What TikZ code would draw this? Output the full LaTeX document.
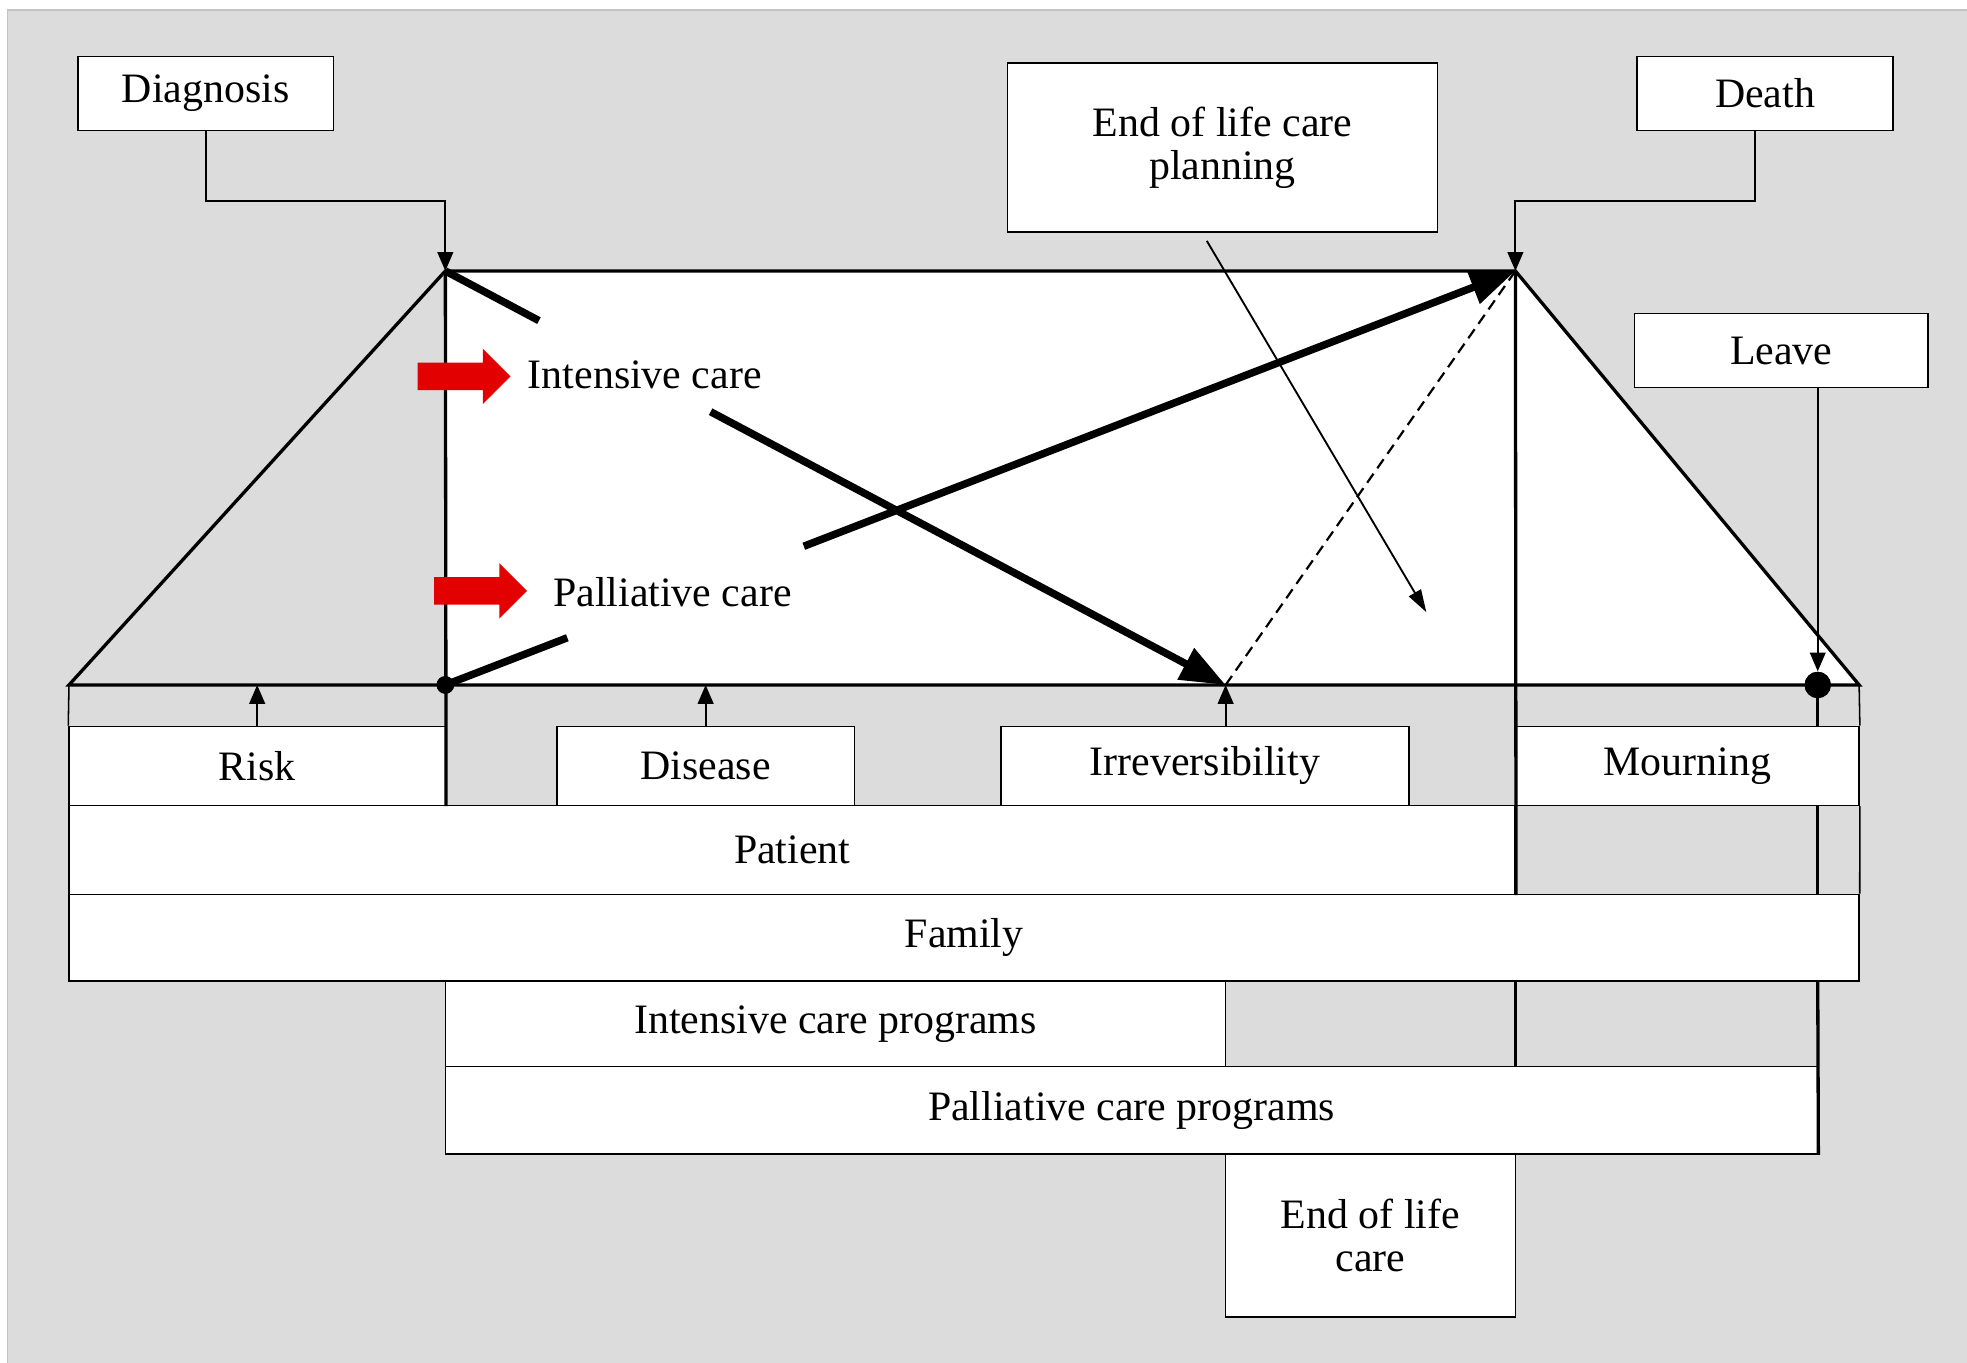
\documentclass[tikz,border=0pt]{standalone}
\usepackage{fontspec}
\setmainfont{Liberation Serif}
\usetikzlibrary{arrows.meta,calc}
\definecolor{bggray}{RGB}{220,220,220}
\definecolor{framegray}{RGB}{195,195,195}
\definecolor{redarrow}{RGB}{226,0,0}
\begin{document}
\begin{tikzpicture}[x=0.02cm,y=-0.02cm,
  box/.style={draw, fill=white, line width=0.7pt, inner sep=0pt, font=\fontsize{19}{19.5}\selectfont, align=center},
  txt/.style={font=\fontsize{19}{19.5}\selectfont, inner sep=0pt},
  frame/.style={line width=1.5pt},
  thinline/.style={line width=0.7pt},
  conn/.style={line width=0.85pt, -{Triangle[length=0.3cm,width=0.25cm]}},
  heavy/.style={line width=3.4pt},
  heavytip/.style={-{Triangle[length=0.72cm,width=0.54cm]}},
  dotnode/.style={circle, fill=black, inner sep=0pt},
  redblock/.style={fill=redarrow}
]
\useasboundingbox (0,0) rectangle (1568,1086);
\fill[white] (0,0) rectangle (1568,1086);
\draw[fill=bggray, draw=framegray, line width=0.6pt] (6,8) rectangle (1600,1120);

% key points
\coordinate (TL) at (355,216);
\coordinate (TR) at (1208,216);
\coordinate (BL) at (55,546);
\coordinate (BR) at (1482,546);
\coordinate (BM) at (355,546);
\coordinate (irr) at (977,546);
\coordinate (dbend) at (355,160);
\coordinate (tbend) at (1208,160);
\coordinate (pstart) at (962,192);
\coordinate (pend) at (1137,488);

% white interior
\fill[white] (TL) -- (TR) -- (BR) -- (BM) -- cycle;

% top boxes
\node[box, minimum width=4.08cm, minimum height=1.18cm] (diag) at (164,74.5) {Diagnosis};
\node[box, minimum width=4.08cm, minimum height=1.18cm] (death) at (1407,74.5) {Death};
\node[box, minimum width=6.86cm, minimum height=2.7cm] (plan) at (974.5,117.5) {End of life care\\planning};
\node[box, minimum width=4.68cm, minimum height=1.18cm] (leave) at (1420,279.5) {Leave};

% bottom boxes
\node[box, minimum width=6cm, minimum height=1.26cm] (risk) at (205,610.5) {Risk};
\node[box, minimum width=4.74cm, minimum height=1.26cm] (disease) at (562.5,610.5) {Disease};
\node[box, minimum width=6.5cm, minimum height=1.26cm] (irrev) at (960.5,610.5) {Irreversibility};
\node[box, minimum width=5.48cm, minimum height=1.26cm] (mourn) at (1345,610.5) {Mourning};
\node[box, minimum width=23.06cm, minimum height=1.42cm] (patient) at (631.5,677.5) {Patient};
\node[box, minimum width=28.54cm, minimum height=1.38cm] (family) at (768.5,747.5) {Family};
\node[box, minimum width=12.44cm, minimum height=1.36cm] (icp) at (666,816) {Intensive care programs};
\node[box, minimum width=21.88cm, minimum height=1.4cm] (pcp) at (902,885) {Palliative care programs};
\node[box, minimum width=4.62cm, minimum height=2.6cm] (eolc) at (1092.5,985) {End of life\\care};

% dots
\node[dotnode, minimum size=0.28cm] (ldot) at (BM) {};
\node[dotnode, minimum size=0.42cm] (rdot) at (1449,546) {};

% frame
\draw[frame, line join=miter] (BL) -- (TL) -- (TR) -- (BR) -- cycle;
\draw[frame] (TL) -- (risk.south east);
\draw[frame] (TR) -- (patient.south east);
\draw[frame] (family.south -| TR) -- (pcp.north -| TR);
\draw[frame] (rdot.center) -- (mourn.north -| rdot);
\draw[frame] (mourn.south -| rdot) -- (family.north -| rdot);
\draw[frame] (family.south -| rdot) -- (pcp.south east);
\draw[thinline] (BL) -- (risk.north west);
\draw[thinline] (BR) -- (mourn.north east);
\draw[thinline] (mourn.south east) -- (family.north east);

% heavy arrows
\draw[heavy] (TL) -- ($(TL)!0.12!(irr)$);
\draw[heavy, heavytip] ($(TL)!0.34!(irr)$) -- (irr);
\draw[heavy] (BM) -- ($(BM)!0.114!(TR)$);
\draw[heavy, heavytip] ($(BM)!0.335!(TR)$) -- (TR);

% dashed
\draw[line width=1pt, dash pattern=on 5pt off 3pt] (irr) -- (TR);

% connectors
\draw[conn] (diag.south) |- (dbend) -- (TL);
\draw[conn] ($(death.south)+(-8,0)$) |- (tbend) -- (TR);
\draw[conn] (risk.north) -- (risk.north |- BL);
\draw[conn] (disease.north) -- (disease.north |- BL);
\draw[conn] (irrev.north -| irr) -- (irr);
\draw[conn] (leave.south -| rdot) -- (rdot.north);
\draw[line width=0.85pt, -{Triangle[length=0.36cm,width=0.22cm]}] (pstart) -- (pend);

% redraw dots on top
\node[dotnode, minimum size=0.28cm] at (BM) {};
\node[dotnode, minimum size=0.42cm] at (1449,546) {};

% labels with red arrows
\node[txt] (ic) at (514,299) {Intensive care};
\node[txt] (pc) at (536,472) {Palliative care};
\coordinate (ictip) at (407,300);
\coordinate (pctip) at (420,471);
\fill[redblock, shift={(ictip)}] (-74,-11) -- (-22,-11) -- (-22,-22) -- (0,0) -- (-22,22) -- (-22,11) -- (-74,11) -- cycle;
\fill[redblock, shift={(pctip)}] (-74,-11) -- (-22,-11) -- (-22,-22) -- (0,0) -- (-22,22) -- (-22,11) -- (-74,11) -- cycle;
\end{tikzpicture}
\end{document}
